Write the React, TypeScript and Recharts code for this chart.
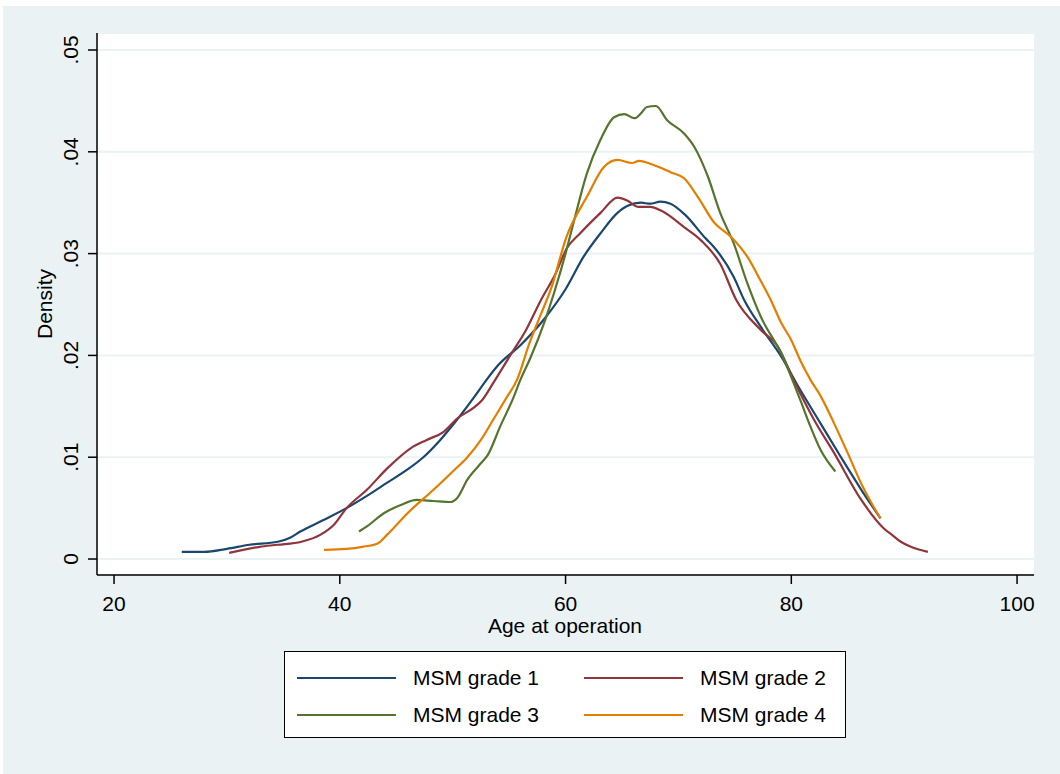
import React from "react";
import { CartesianGrid, Line, LineChart, XAxis, YAxis } from "recharts";

// kernel density estimates as [age, density]
const grade1: [number, number][] = [
  [26.0, 0.0007], [28.0, 0.0007], [30.0, 0.001], [32.0, 0.0014], [34.5, 0.0017],
  [35.6, 0.0021], [36.5, 0.0027], [38.5, 0.0038], [40.6, 0.005], [42.4, 0.0062],
  [44.2, 0.0075], [46.0, 0.0088], [47.4, 0.01], [48.9, 0.0117], [50.4, 0.0137],
  [51.9, 0.0159], [53.0, 0.0176], [54.0, 0.019], [56.0, 0.021], [58.2, 0.0237],
  [60.0, 0.0265], [61.6, 0.0297], [63.1, 0.032], [64.6, 0.034], [65.5, 0.0347],
  [66.7, 0.035], [67.5, 0.0349], [68.4, 0.0351], [69.3, 0.0349], [70.6, 0.0338],
  [72.4, 0.0315], [73.1, 0.0307], [74.9, 0.0277], [75.8, 0.0255], [77.3, 0.0228],
  [79.1, 0.0199], [80.8, 0.0166], [82.6, 0.0133], [84.4, 0.01], [86.2, 0.0068],
  [87.9, 0.004],
];

const grade2: [number, number][] = [
  [30.2, 0.0006], [32.9, 0.0012], [34.5, 0.0014], [36.6, 0.0017], [38.3, 0.0024],
  [39.5, 0.0034], [40.6, 0.005], [42.4, 0.0068], [44.2, 0.0089], [46.3, 0.0109],
  [47.7, 0.0117], [49.2, 0.0125], [50.4, 0.0138], [51.9, 0.0149], [52.6, 0.0156],
  [53.6, 0.0173], [55.1, 0.02], [56.5, 0.0225], [57.8, 0.0254], [59.1, 0.028],
  [60.1, 0.0305], [61.3, 0.032], [63.1, 0.034], [64.6, 0.0355], [65.5, 0.0352],
  [66.4, 0.0346], [67.5, 0.0346], [68.5, 0.0342], [70.5, 0.0326], [72.0, 0.0313],
  [73.7, 0.029], [75.1, 0.0255], [77.3, 0.0225], [78.8, 0.0209], [80.2, 0.0176],
  [82.0, 0.0137], [83.8, 0.0104], [86.2, 0.0058], [88.2, 0.003], [89.0, 0.0023],
  [89.7, 0.0017], [90.6, 0.0012], [92.1, 0.0007],
];

const grade3: [number, number][] = [
  [41.7, 0.0027], [42.4, 0.0032], [43.9, 0.0045], [45.4, 0.0053], [46.8, 0.0058],
  [48.3, 0.0057], [49.8, 0.0056], [50.4, 0.006], [51.3, 0.0078], [52.5, 0.0094],
  [53.1, 0.0102], [54.2, 0.013], [55.4, 0.0159], [56.0, 0.0176], [56.9, 0.0198],
  [58.2, 0.0235], [59.0, 0.0262], [60.0, 0.03], [60.7, 0.033], [61.9, 0.0379],
  [63.1, 0.0412], [64.3, 0.0434], [65.2, 0.0437], [66.1, 0.0433], [66.7, 0.0438],
  [67.2, 0.0444], [68.0, 0.0445], [69.0, 0.0431], [70.5, 0.0418], [71.4, 0.0405],
  [72.6, 0.0376], [73.7, 0.034], [74.9, 0.031], [76.1, 0.0271], [77.3, 0.0238],
  [79.1, 0.0202], [80.8, 0.0156], [81.7, 0.013], [82.6, 0.0107], [83.9, 0.0086],
];

const grade4: [number, number][] = [
  [38.6, 0.0009], [40.6, 0.001], [42.0, 0.0012], [43.3, 0.0015], [44.2, 0.0024],
  [46.0, 0.0045], [48.3, 0.0068], [50.1, 0.0087], [51.3, 0.01], [52.5, 0.0117],
  [53.6, 0.0137], [54.8, 0.0159], [55.7, 0.0176], [56.8, 0.0212], [57.8, 0.024],
  [58.7, 0.0265], [60.1, 0.0317], [61.9, 0.0356], [63.4, 0.0385], [64.6, 0.0392],
  [65.9, 0.0389], [66.5, 0.0391], [67.8, 0.0387], [69.3, 0.038], [70.5, 0.0374],
  [71.7, 0.0356], [73.2, 0.033], [74.6, 0.0317], [76.1, 0.0297], [77.3, 0.0273],
  [78.2, 0.0254], [79.1, 0.0232], [80.0, 0.0215], [80.8, 0.0195], [81.7, 0.0176],
  [82.6, 0.016], [83.8, 0.0133], [85.0, 0.0104], [86.2, 0.0074], [87.1, 0.0055],
  [87.9, 0.004],
];

const seriesNames = ["MSM grade 1", "MSM grade 2", "MSM grade 3", "MSM grade 4"];
const xTicks = [20, 40, 60, 80, 100];
const yTicks = [0, 0.01, 0.02, 0.03, 0.04, 0.05];
const yTickLabels = ["0", ".01", ".02", ".03", ".04", ".05"];

const COLORS = ["#1a476f", "#90353b", "#55752f", "#e37e00"];
const BG = "#eaf2f3";
const FONT = "'Liberation Sans', Arial, Helvetica, sans-serif";

const toRows = (pts: [number, number][]) => pts.map(([age, density]) => ({ age, density }));
const series = [grade1, grade2, grade3, grade4].map(toRows);

const YTick = (props: any) => {
  const { x, y, payload } = props;
  const i = yTicks.indexOf(payload.value);
  const tx = x - 8;
  return (
    <text x={tx} y={y} transform={`rotate(-90, ${tx}, ${y})`} textAnchor="middle"
      fontSize={21} fontFamily={FONT} fill="#000">
      {i >= 0 ? yTickLabels[i] : payload.value}
    </text>
  );
};

const XTick = (props: any) => {
  const { x, y, payload } = props;
  return (
    <text x={x} y={y + 25} textAnchor="middle" fontSize={21} fontFamily={FONT} fill="#000">
      {payload.value}
    </text>
  );
};

export default function App() {
  return (
    <div style={{ position: "absolute", left: 0, top: 0, width: 1060, height: 774, background: "#fff", fontFamily: FONT, overflow: "hidden" }}>
      <div style={{ position: "absolute", left: 3, top: 6, right: 0, bottom: 0, background: BG }} />
      <div style={{ position: "absolute", left: 0, top: 0 }}>
        <LineChart width={1060} height={774} margin={{ top: 33, right: 26, left: 37, bottom: 169 }}>
          <CartesianGrid vertical={false} stroke={BG} strokeWidth={2} fill="#fff" />
          <XAxis type="number" dataKey="age" domain={[18.49, 101.5]} allowDataOverflow
            ticks={xTicks} tick={<XTick />} tickSize={9} height={30}
            axisLine={{ stroke: "#000", strokeWidth: 1.5 }} tickLine={{ stroke: "#000", strokeWidth: 1.5 }} />
          <YAxis type="number" domain={[-0.00157, 0.05167]} allowDataOverflow
            ticks={yTicks} tick={<YTick />} tickSize={9} width={60}
            axisLine={{ stroke: "#000", strokeWidth: 1.5 }} tickLine={{ stroke: "#000", strokeWidth: 1.5 }} />
          {series.map((d, i) => (
            <Line key={seriesNames[i]} data={d} dataKey="density" name={seriesNames[i]}
              type="monotone" stroke={COLORS[i]} strokeWidth={2.2} dot={false}
              isAnimationActive={false} />
          ))}
        </LineChart>
      </div>
      <div style={{ position: "absolute", left: 45, top: 304, transform: "translate(-50%, -50%) rotate(-90deg)", fontSize: 21, whiteSpace: "nowrap" }}>
        Density
      </div>
      <div style={{ position: "absolute", left: 565, top: 626, transform: "translate(-50%, -50%)", fontSize: 21, whiteSpace: "nowrap" }}>
        Age at operation
      </div>
      <div style={{ position: "absolute", left: 284, top: 651, width: 562, height: 87, boxSizing: "border-box", border: "1.5px solid #000", background: "#fff" }}>
        {seriesNames.map((name, i) => {
          const col = i % 2;
          const row = Math.floor(i / 2);
          return (
            <div key={name} style={{ position: "absolute", left: 12 + col * 287, top: 26 + row * 37 - 14, height: 28, display: "flex", alignItems: "center" }}>
              <div style={{ width: 99, height: 2.2, background: COLORS[i] }} />
              <span style={{ marginLeft: 17, fontSize: 21 }}>{name}</span>
            </div>
          );
        })}
      </div>
    </div>
  );
}
